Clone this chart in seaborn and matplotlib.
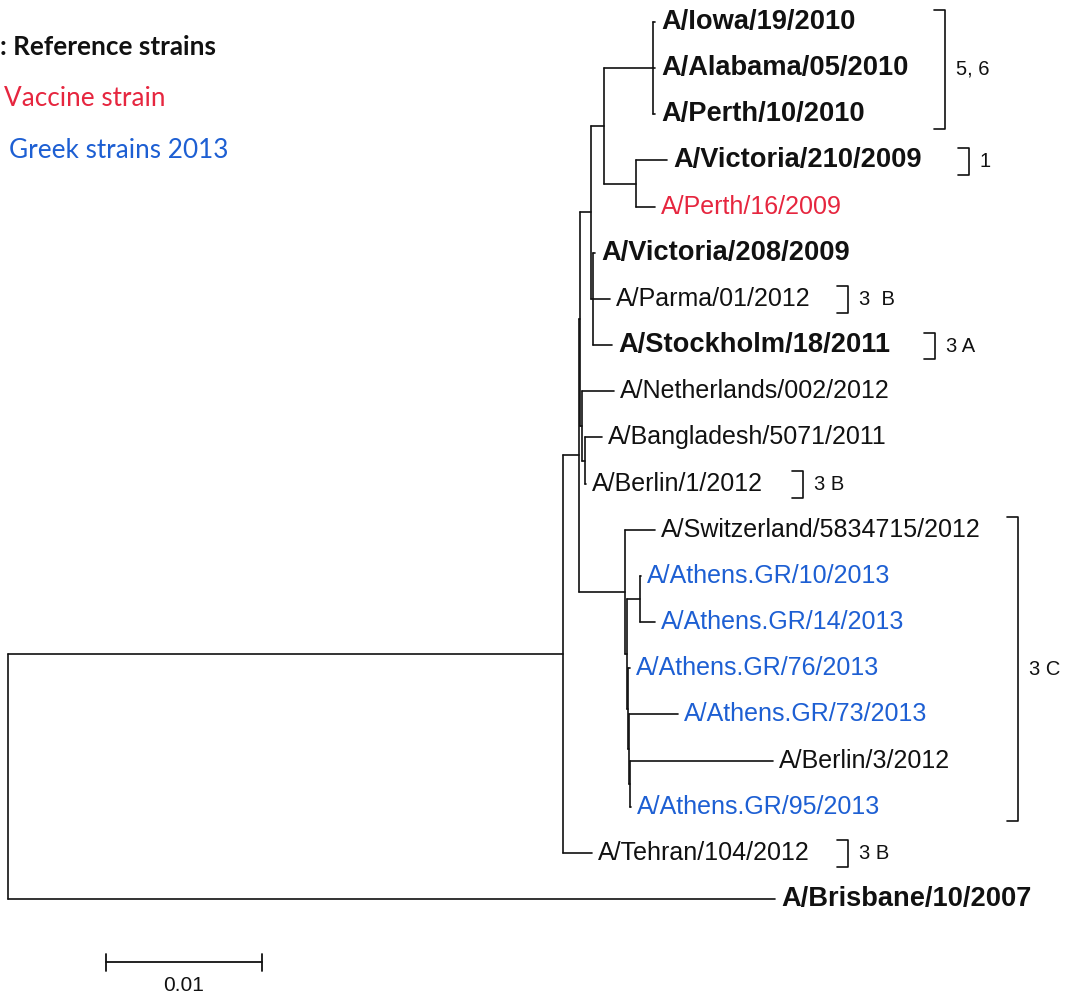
import seaborn as sns
import matplotlib.pyplot as plt
import pandas as pd

# tree topology, listed depth-first so the leaf order matches the figure
nodes = ['root', 'A', 'B', 'C', 'F', 'D', 'K',
         'A/Iowa/19/2010', 'A/Alabama/05/2010', 'A/Perth/10/2010',
         'E', 'A/Victoria/210/2009', 'A/Perth/16/2009',
         'G', 'A/Victoria/208/2009', 'A/Parma/01/2012', 'A/Stockholm/18/2011',
         'I', 'A/Netherlands/002/2012', 'J', 'A/Bangladesh/5071/2011', 'A/Berlin/1/2012',
         'L', 'A/Switzerland/5834715/2012', 'M', 'N',
         'A/Athens.GR/10/2013', 'A/Athens.GR/14/2013',
         'P', 'A/Athens.GR/76/2013', 'Q', 'A/Athens.GR/73/2013',
         'R', 'A/Berlin/3/2012', 'A/Athens.GR/95/2013',
         'A/Tehran/104/2012', 'A/Brisbane/10/2007']
parents = [None, 'root', 'A', 'B', 'C', 'F', 'D',
           'K', 'K', 'K',
           'D', 'E', 'E',
           'F', 'G', 'G', 'G',
           'C', 'I', 'I', 'J', 'J',
           'B', 'L', 'L', 'M',
           'N', 'N',
           'M', 'P', 'P', 'Q',
           'Q', 'R', 'R',
           'A', 'root']
# branch lengths (substitutions per site)
branch_len = [0.0, 0.03558, 0.00103, 0.00006, 0.00071, 0.00083, 0.00314,
              0.00013, 0.00013, 0.00013,
              0.00205, 0.00199, 0.00122,
              0.00013, 0.00013, 0.00109, 0.00122,
              0.00013, 0.00205, 0.00019, 0.00109, 0.00006,
              0.00295, 0.00192, 0.00013, 0.00083,
              0.00006, 0.00096,
              0.00006, 0.00013, 0.00006, 0.00314,
              0.00006, 0.00917, 0.00006,
              0.00186, 0.04917]

bold_strains = ['A/Iowa/19/2010', 'A/Alabama/05/2010', 'A/Perth/10/2010',
                'A/Victoria/210/2009', 'A/Victoria/208/2009',
                'A/Stockholm/18/2011', 'A/Brisbane/10/2007']
vaccine_strains = ['A/Perth/16/2009']
greek_strains = ['A/Athens.GR/10/2013', 'A/Athens.GR/14/2013', 'A/Athens.GR/76/2013',
                 'A/Athens.GR/73/2013', 'A/Athens.GR/95/2013']

# genetic group brackets: first leaf, last leaf, text
group_first = ['A/Iowa/19/2010', 'A/Victoria/210/2009', 'A/Parma/01/2012',
               'A/Stockholm/18/2011', 'A/Berlin/1/2012',
               'A/Switzerland/5834715/2012', 'A/Tehran/104/2012']
group_last = ['A/Perth/10/2010', 'A/Victoria/210/2009', 'A/Parma/01/2012',
              'A/Stockholm/18/2011', 'A/Berlin/1/2012',
              'A/Athens.GR/95/2013', 'A/Tehran/104/2012']
group_text = ['5, 6', '1', '3  B', '3 A', '3 B', '3 C', '3 B']
group_px = [945, 969, 848, 935, 803, 1018, 848]   # bracket x in pixels

legend_text = [': Reference strains', 'Vaccine strain', 'Greek strains 2013']
scale_len = 0.01

RED = '#e6263f'
BLUE = '#1d5fd3'
PX = 15600.0      # pixels per unit of distance
X0 = 8            # pixel of the root

# layout
children = {n: [] for n in nodes}
for n, p in zip(nodes, parents):
    if p is not None:
        children[p].append(n)
blen = dict(zip(nodes, branch_len))
xpos, ypos = {}, {}
leaves = []


def place(n, x):
    xpos[n] = x
    for c in children[n]:
        place(c, x + blen[c])
    if children[n]:
        ypos[n] = (ypos[children[n][0]] + ypos[children[n][-1]]) / 2
    else:
        ypos[n] = len(leaves)
        leaves.append(n)


place('root', 0.0)

rows = []
seg = 0
for n, p in zip(nodes, parents):
    if p is not None:
        rows += [(seg, xpos[p], ypos[n]), (seg, xpos[n], ypos[n])]
        seg += 1
    if children[n]:
        rows += [(seg, xpos[n], ypos[children[n][0]]), (seg, xpos[n], ypos[children[n][-1]])]
        seg += 1
seg_df = pd.DataFrame(rows, columns=['seg', 'x', 'y'])

sns.set_theme(style='white')
plt.rcParams['font.family'] = ['Liberation Sans', 'DejaVu Sans']

fig = plt.figure(figsize=(10.67, 9.96), dpi=100)
ax = fig.add_axes([0, 0, 1, 1])
sns.lineplot(data=seg_df, x='x', y='y', units='seg', estimator=None, sort=False,
             color='#111111', linewidth=1.2, legend=False, ax=ax)

step = 46.16
ax.set_xlim(-X0 / PX, (1067 - X0) / PX)
ax.set_ylim((996 - 22) / step, -22 / step)
ax.axis('off')

# tip labels
for n in leaves:
    color = '#111111'
    weight = 'normal'
    size = 18
    if n in bold_strains:
        weight = 'bold'
        size = 19.6
    if n in vaccine_strains:
        color = RED
    if n in greek_strains:
        color = BLUE
    ax.text(xpos[n] + 6 / PX, ypos[n], n, fontsize=size, fontweight=weight,
            color=color, va='center', ha='left')

# brackets for genetic groups
for first, last, txt, bx in zip(group_first, group_last, group_text, group_px):
    y1 = ypos[first] - 0.27
    y2 = ypos[last] + 0.31
    xb = (bx - X0) / PX
    xt = xb - 11 / PX
    ax.plot([xt, xb, xb, xt], [y1, y1, y2, y2], color='#111111', lw=1.2)
    ax.text(xb + 11 / PX, (y1 + y2) / 2, txt, fontsize=14.5, va='center', ha='left',
            color='#111111')

# scale bar
sx = (106 - X0) / PX
sy = (962 - 22) / step
ax.plot([sx, sx + scale_len], [sy, sy], color='#111111', lw=1.3)
for xx in [sx, sx + scale_len]:
    ax.plot([xx, xx], [sy - 0.18, sy + 0.2], color='#111111', lw=1.3)
ax.text(sx + scale_len / 2, sy + 0.5, '0.01', fontsize=15, ha='center', va='center',
        color='#111111')

# legend text
fig.text(0, 1 - 47 / 996, legend_text[0], fontsize=18.8, fontweight='bold',
         family=['Lato', 'DejaVu Sans'], va='center', ha='left', color='#111111')
fig.text(4 / 1067, 1 - 98 / 996, legend_text[1], fontsize=18.8,
         family=['Lato', 'DejaVu Sans'], va='center', ha='left', color=RED)
fig.text(9 / 1067, 1 - 150 / 996, legend_text[2], fontsize=18.8,
         family=['Lato', 'DejaVu Sans'], va='center', ha='left', color=BLUE)

fig.savefig('out.png', dpi=100)
